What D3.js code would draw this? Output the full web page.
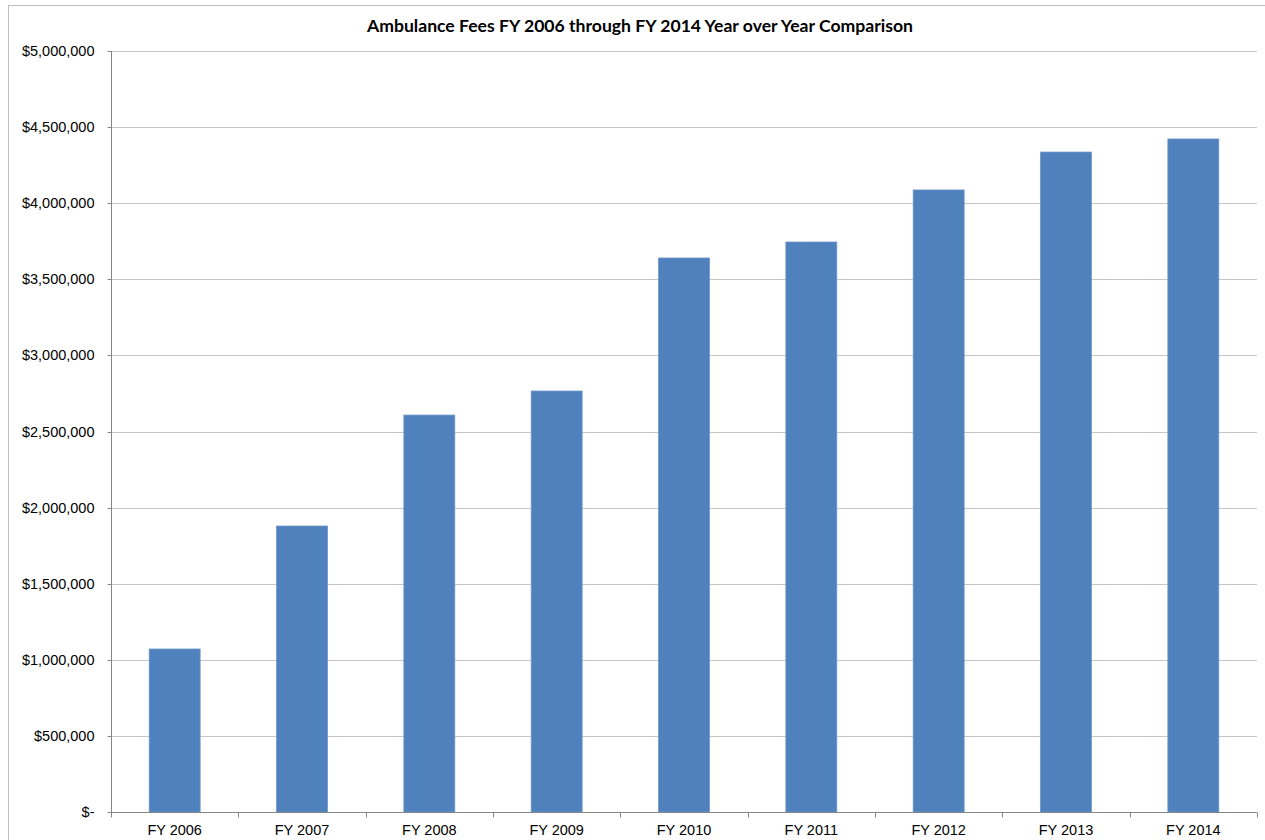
<!DOCTYPE html>
<html>
<head>
<meta charset="utf-8">
<script src="https://cdn.jsdelivr.net/npm/d3@7"></script>
<style>
  html, body { margin: 0; padding: 0; background: #fff; }
  svg { display: block; }
</style>
</head>
<body>
<svg id="chart" width="1265" height="840"></svg>
<script>
// Ambulance fee revenue by fiscal year
const categories = ["FY 2006", "FY 2007", "FY 2008", "FY 2009", "FY 2010", "FY 2011", "FY 2012", "FY 2013", "FY 2014"];
const fees = [1071000, 1879000, 2608000, 2766000, 3640000, 3745000, 4087000, 4336000, 4422000];
const yTicks = [0, 500000, 1000000, 1500000, 2000000, 2500000, 3000000, 3500000, 4000000, 4500000, 5000000];
const titleText = "Ambulance Fees FY 2006 through FY 2014 Year over Year Comparison";

const svg = d3.select("#chart");
const W = 1265, H = 840;
const plot = { left: 111, right: 1257, top: 51, bottom: 812 };

// outer chart frame
svg.append("rect")
  .attr("x", 8.5).attr("y", 5.5)
  .attr("width", W + 10).attr("height", H + 10)
  .attr("fill", "#fff").attr("stroke", "#bfbfbf").attr("stroke-width", 1);

const x = d3.scaleBand().domain(categories).range([plot.left, plot.right]).paddingInner(0.6).paddingOuter(0.3);
const y = d3.scaleLinear().domain([0, 5000000]).range([plot.bottom, plot.top]);

const fmt = v => v === 0 ? "$-" : "$" + d3.format(",")(v);

// horizontal gridlines
svg.append("g")
  .selectAll("line")
  .data(yTicks.filter(d => d > 0))
  .join("line")
  .attr("x1", plot.left).attr("x2", plot.right)
  .attr("y1", d => Math.round(y(d)) + 0.5).attr("y2", d => Math.round(y(d)) + 0.5)
  .attr("stroke", "#c6c6c6").attr("stroke-width", 1);

// bars
svg.append("g")
  .selectAll("rect")
  .data(fees)
  .join("rect")
  .attr("x", (d, i) => x(categories[i]))
  .attr("width", x.bandwidth())
  .attr("y", d => y(d))
  .attr("height", d => y(0) - y(d))
  .attr("fill", "#4f81bd")
  .attr("stroke", "#6d95c8").attr("stroke-width", 0.8);

// y axis
const yAxis = d3.axisLeft(y).tickValues(yTicks).tickFormat(fmt).tickSize(4).tickPadding(13);
const gy = svg.append("g").attr("transform", `translate(${plot.left + 0.5},0)`).call(yAxis);
gy.select(".domain").attr("stroke", "#868686").attr("d", `M0,${plot.top}V${plot.bottom}`);
gy.selectAll(".tick line").attr("stroke", "#868686");
gy.selectAll(".tick").attr("transform", d => `translate(0,${Math.round(y(d)) + 0.5})`);
gy.selectAll("text")
  .attr("font-family", "'Liberation Sans', Arial, sans-serif")
  .attr("font-size", "14.5px").attr("fill", "#000");

// x axis with boundary ticks between categories
const gx = svg.append("g").attr("transform", `translate(0,${plot.bottom + 0.5})`);
gx.append("line")
  .attr("x1", plot.left).attr("x2", plot.right)
  .attr("stroke", "#868686");
const bounds = d3.range(categories.length + 1).map(i => plot.left + i * (plot.right - plot.left) / categories.length);
gx.selectAll("line.b")
  .data(bounds)
  .join("line").attr("class", "b")
  .attr("x1", d => Math.round(d) + 0.5).attr("x2", d => Math.round(d) + 0.5)
  .attr("y1", 0).attr("y2", 5)
  .attr("stroke", "#868686");
gx.selectAll("text")
  .data(categories)
  .join("text")
  .attr("x", d => x(d) + x.bandwidth() / 2)
  .attr("y", 22)
  .attr("text-anchor", "middle")
  .attr("font-family", "'Liberation Sans', Arial, sans-serif")
  .attr("font-size", "14.5px").attr("fill", "#000")
  .text(d => d);

// title
svg.append("text")
  .attr("x", 640).attr("y", 32)
  .attr("text-anchor", "middle")
  .attr("font-family", "Lato, 'Open Sans', sans-serif")
  .attr("font-weight", "bold")
  .attr("font-size", "17.6px").attr("fill", "#000")
  .text(titleText);
</script>
</body>
</html>
